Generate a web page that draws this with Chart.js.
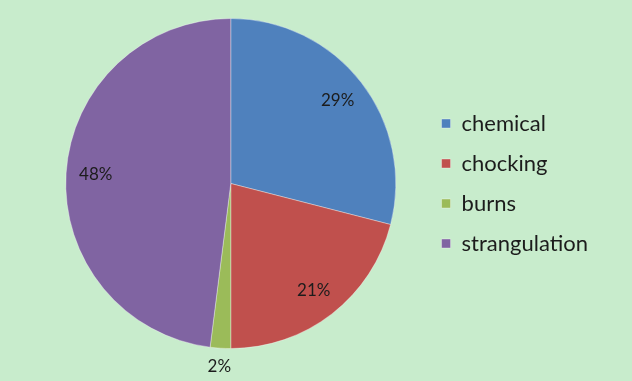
<!DOCTYPE html>
<html lang="en">
<head>
    <meta charset="UTF-8">
    <title>Injury causes</title>
    <script src="https://cdn.jsdelivr.net/npm/chart.js"></script>
    <style>
        html, body { margin: 0; padding: 0; background: #c8eccc; }
        #wrap { width: 632px; height: 381px; }
    </style>
</head>
<body>
    <div id="wrap"><canvas id="pieChart"></canvas></div>

    <script>
        // Données
        var categories = ['chemical', 'chocking', 'burns', 'strangulation'];
        var shares = [29, 21, 2, 48];
        var sliceColors = ['#4f81bd', '#c0504d', '#9bbb59', '#8064a2'];

        // étiquettes en % (la petite part "burns" est placée à l'extérieur)
        var percentLabels = {
            id: 'percentLabels',
            afterDatasetsDraw: function (chart) {
                var ctx = chart.ctx;
                var meta = chart.getDatasetMeta(0);
                var total = shares.reduce(function (a, b) { return a + b; }, 0);
                ctx.save();
                ctx.font = '17px Lato';
                ctx.fillStyle = '#1c1c1c';
                ctx.textAlign = 'center';
                ctx.textBaseline = 'middle';
                meta.data.forEach(function (arc, i) {
                    var p = arc.getProps(['x', 'y', 'startAngle', 'endAngle', 'outerRadius'], true);
                    var mid = (p.startAngle + p.endAngle) / 2;
                    var pct = shares[i] / total;
                    var r = pct < 0.05 ? p.outerRadius * 1.11 : p.outerRadius * 0.82;
                    ctx.fillText(Math.round(pct * 100) + '%', p.x + Math.cos(mid) * r, p.y + Math.sin(mid) * r);
                });
                ctx.restore();
            }
        };

        var pieChart = new Chart(document.getElementById('pieChart'), {
            type: 'pie',
            data: {
                labels: categories,
                datasets: [{
                    data: shares,
                    backgroundColor: sliceColors,
                    borderColor: 'rgba(255,255,255,0.35)',
                    borderWidth: 1
                }]
            },
            options: {
                responsive: true,
                maintainAspectRatio: false,
                animation: false,
                layout: { padding: { left: 38, right: 34, top: 18, bottom: 32 } },
                plugins: {
                    tooltip: { enabled: false },
                    legend: {
                        position: 'right',
                        labels: {
                            boxWidth: 9,
                            boxHeight: 9,
                            padding: 18,
                            color: '#1c1c1c',
                            font: { family: 'Lato', size: 22 }
                        }
                    }
                }
            },
            plugins: [percentLabels]
        });
    </script>
</body>
</html>
